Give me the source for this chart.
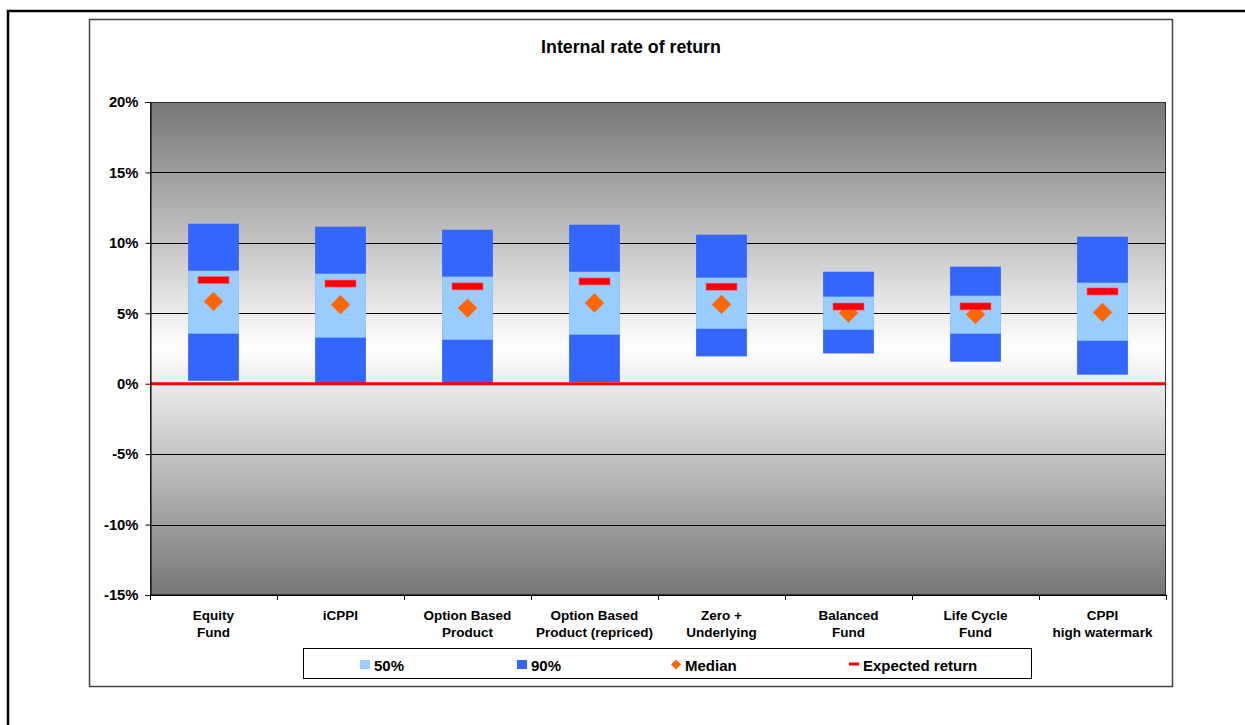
<!DOCTYPE html>
<html>
<head>
<meta charset="utf-8">
<script src="https://cdn.jsdelivr.net/npm/d3@7"></script>
<style>
  body { margin: 0; background: #fff; }
  text { font-family: 'Liberation Sans', Arial, sans-serif; font-weight: bold; }
</style>
</head>
<body>
<div id="chart"></div>
<script>
// categories (two-line labels)
let categories = [
  ['Equity', 'Fund'],
  ['iCPPI', ''],
  ['Option Based', 'Product'],
  ['Option Based', 'Product (repriced)'],
  ['Zero +', 'Underlying'],
  ['Balanced', 'Fund'],
  ['Life Cycle', 'Fund'],
  ['CPPI', 'high watermark']
]

// 90% band (low / high)
let low90 = [0.0021, 0.0, 0.0, 0.0012, 0.0194, 0.0215, 0.0156, 0.0064]
let high90 = [0.1136, 0.1115, 0.1093, 0.1129, 0.1058, 0.0795, 0.0831, 0.1044]

// 50% band (low / high)
let low50 = [0.0355, 0.0327, 0.0312, 0.0348, 0.039, 0.0383, 0.0355, 0.0305]
let high50 = [0.0802, 0.0781, 0.076, 0.0795, 0.0753, 0.0618, 0.0625, 0.0717]

let median = [0.0584, 0.0561, 0.0537, 0.0573, 0.0563, 0.0502, 0.0492, 0.0506]
let expected = [0.0736, 0.0711, 0.0691, 0.0726, 0.0689, 0.0548, 0.0549, 0.0655]

let yTicks = [-0.15, -0.1, -0.05, 0, 0.05, 0.1, 0.15, 0.2]

let legendItems = ['50%', '90%', 'Median', 'Expected return']

let colors = {
  p50: '#99ccff',
  p90: '#3366ff',
  median: '#ff6600',
  expected: '#ff0000'
}

let W = 1245
let H = 725
let plot = { left: 150, right: 1166, top: 102, bottom: 595 }

let svg = d3
  .select('#chart')
  .append('svg')
  .attr('width', W)
  .attr('height', H)

// outer frame and chart box
svg
  .append('rect')
  .attr('x', 8)
  .attr('y', 11)
  .attr('width', W + 20)
  .attr('height', H + 20)
  .attr('fill', 'none')
  .attr('stroke', '#000')
  .attr('stroke-width', 2.5)

svg
  .append('rect')
  .attr('x', 89.5)
  .attr('y', 19.5)
  .attr('width', 1083)
  .attr('height', 667)
  .attr('fill', '#fff')
  .attr('stroke', '#444')
  .attr('stroke-width', 1.5)

svg
  .append('text')
  .attr('x', 631)
  .attr('y', 53)
  .attr('text-anchor', 'middle')
  .attr('font-size', 17.8)
  .text('Internal rate of return')

let xScale = d3
  .scaleBand()
  .domain(d3.range(categories.length))
  .range([plot.left, plot.right])
  .paddingInner(0.6)
  .paddingOuter(0.3)

let yScale = d3
  .scaleLinear()
  .domain([-0.15, 0.2])
  .range([plot.bottom, plot.top])

// gradient background
let defs = svg.append('defs')
let grad = defs
  .append('linearGradient')
  .attr('id', 'bg')
  .attr('x1', 0)
  .attr('y1', 0)
  .attr('x2', 0)
  .attr('y2', 1)
grad.append('stop').attr('offset', '0%').attr('stop-color', '#767676')
grad.append('stop').attr('offset', '50%').attr('stop-color', '#fff')
grad.append('stop').attr('offset', '100%').attr('stop-color', '#767676')

svg
  .append('rect')
  .attr('x', plot.left)
  .attr('y', plot.top)
  .attr('width', plot.right - plot.left)
  .attr('height', plot.bottom - plot.top)
  .attr('fill', 'url(#bg)')

// gridlines
svg
  .append('g')
  .selectAll('line')
  .data(yTicks)
  .enter()
  .append('line')
  .attr('x1', plot.left)
  .attr('x2', plot.right)
  .attr('y1', d => Math.round(yScale(d)) + 0.5)
  .attr('y2', d => Math.round(yScale(d)) + 0.5)
  .attr('stroke', '#000')
  .attr('stroke-width', 1)

// plot border
svg
  .append('rect')
  .attr('x', plot.left + 0.5)
  .attr('y', plot.top + 0.5)
  .attr('width', plot.right - plot.left - 1)
  .attr('height', plot.bottom - plot.top - 1)
  .attr('fill', 'none')
  .attr('stroke', '#333')

// 90% bars
svg
  .append('g')
  .selectAll('rect')
  .data(categories)
  .enter()
  .append('rect')
  .attr('x', (d, i) => xScale(i))
  .attr('width', xScale.bandwidth())
  .attr('y', (d, i) => yScale(high90[i]))
  .attr('height', (d, i) => yScale(low90[i]) - yScale(high90[i]))
  .attr('fill', colors.p90)

// 50% bars
svg
  .append('g')
  .selectAll('rect')
  .data(categories)
  .enter()
  .append('rect')
  .attr('x', (d, i) => xScale(i))
  .attr('width', xScale.bandwidth())
  .attr('y', (d, i) => yScale(high50[i]))
  .attr('height', (d, i) => yScale(low50[i]) - yScale(high50[i]))
  .attr('fill', colors.p50)

// zero line
svg
  .append('line')
  .attr('x1', plot.left)
  .attr('x2', plot.right)
  .attr('y1', yScale(0))
  .attr('y2', yScale(0))
  .attr('stroke', '#ff0000')
  .attr('stroke-width', 3)

// median diamonds
let diamond = d3.symbol().type(d3.symbolSquare).size(186)
svg
  .append('g')
  .selectAll('path')
  .data(median)
  .enter()
  .append('path')
  .attr('d', diamond)
  .attr('transform', (d, i) => {
    let cx = xScale(i) + xScale.bandwidth() / 2
    return 'translate(' + cx + ',' + yScale(d) + ') rotate(45)'
  })
  .attr('fill', colors.median)

// expected return dashes
svg
  .append('g')
  .selectAll('rect')
  .data(expected)
  .enter()
  .append('rect')
  .attr('x', (d, i) => xScale(i) + xScale.bandwidth() / 2 - 15.5)
  .attr('y', d => yScale(d) - 3.5)
  .attr('width', 31)
  .attr('height', 7)
  .attr('fill', colors.expected)
  .attr('stroke', '#ff5a6e')
  .attr('stroke-width', 0.6)

// y axis
let yAxis = d3
  .axisLeft(yScale)
  .tickValues(yTicks)
  .tickSize(5)
  .tickPadding(7)
  .tickFormat(d => Math.round(d * 100) + '%')

let yAxisG = svg
  .append('g')
  .attr('class', 'axis y-axis')
  .attr('transform', 'translate(' + (plot.left + 0.5) + ',0)')
  .call(yAxis)
yAxisG.select('.domain').attr('stroke', '#000')
yAxisG
  .selectAll('text')
  .attr('font-size', 14.8)
  .attr('fill', '#000')
  .attr('font-family', "'Liberation Sans', Arial, sans-serif")

// x axis: line plus ticks at category boundaries
let step = xScale.step()
let boundaries = d3.range(categories.length + 1).map(i => plot.left + i * step)

svg
  .append('line')
  .attr('x1', plot.left)
  .attr('x2', plot.right)
  .attr('y1', plot.bottom + 0.5)
  .attr('y2', plot.bottom + 0.5)
  .attr('stroke', '#000')

svg
  .append('g')
  .selectAll('line')
  .data(boundaries)
  .enter()
  .append('line')
  .attr('x1', d => Math.round(d) + 0.5)
  .attr('x2', d => Math.round(d) + 0.5)
  .attr('y1', plot.bottom)
  .attr('y2', plot.bottom + 5)
  .attr('stroke', '#000')

let catLabels = svg
  .append('g')
  .selectAll('text')
  .data(categories)
  .enter()
  .append('text')
  .attr('text-anchor', 'middle')
  .attr('font-size', 13.5)

catLabels
  .selectAll('tspan')
  .data((d, i) => d.map(line => ({ line: line, i: i })))
  .enter()
  .append('tspan')
  .attr('x', d => xScale(d.i) + xScale.bandwidth() / 2)
  .attr('y', (d, j) => 620 + j * 17)
  .text(d => d.line)

// legend
let legend = svg.append('g')
legend
  .append('rect')
  .attr('x', 303.5)
  .attr('y', 648.5)
  .attr('width', 728)
  .attr('height', 30)
  .attr('fill', '#fff')
  .attr('stroke', '#000')

let legendX = [360, 517, 671, 849]

legend
  .append('rect')
  .attr('x', legendX[0])
  .attr('y', 660)
  .attr('width', 10)
  .attr('height', 9)
  .attr('fill', colors.p50)

legend
  .append('rect')
  .attr('x', legendX[1])
  .attr('y', 660)
  .attr('width', 10)
  .attr('height', 9)
  .attr('fill', colors.p90)

legend
  .append('path')
  .attr('d', d3.symbol().type(d3.symbolSquare).size(50))
  .attr('transform', 'translate(' + (legendX[2] + 5) + ',664.5) rotate(45)')
  .attr('fill', colors.median)

legend
  .append('rect')
  .attr('x', legendX[3])
  .attr('y', 662.5)
  .attr('width', 10)
  .attr('height', 3)
  .attr('fill', colors.expected)

legend
  .selectAll('text')
  .data(legendItems)
  .enter()
  .append('text')
  .attr('x', (d, i) => legendX[i] + 14)
  .attr('y', 670.5)
  .attr('font-size', 15)
  .text(d => d)
</script>
</body>
</html>
